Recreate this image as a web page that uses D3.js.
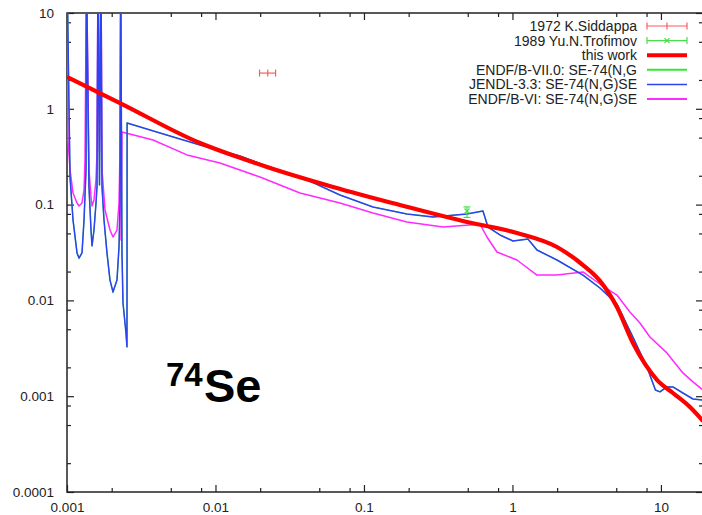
<!DOCTYPE html>
<html>
<head>
<meta charset="utf-8">
<script src="https://cdn.jsdelivr.net/npm/d3@7"></script>
<style>
  body { margin: 0; background: #fff; }
  svg { display: block; }
  text { font-family: "Liberation Sans", Arial, Helvetica, sans-serif; }
</style>
</head>
<body>
<svg id="chart" width="702" height="515"></svg>
<script>
// Se-74 (n,gamma) capture cross section, barn vs. neutron energy, MeV

// axis ticks
const xTickValues = [0.001, 0.01, 0.1, 1, 10];
const xTickLabels = ["0.001", "0.01", "0.1", "1", "10"];
const yTickValues = [0.0001, 0.001, 0.01, 0.1, 1, 10];
const yTickLabels = ["0.0001", "0.001", "0.01", "0.1", "1", "10"];
const minorMultipliers = [2, 5, 8];

const xDomain = [0.001, 19.2];
const yDomain = [0.0001, 10];

// experimental data: [energy, xs, energyLow, energyHigh]
const siddappa1972 = [[0.0225, 2.36, 0.0198, 0.0254]];
// [energy, xs, xsLow, xsHigh]
const trofimov1989 = [[0.494, 0.0857, 0.0735, 0.0946]];

// evaluated / calculated curves: [energy, xs]
const thisWork = [
  [0.001, 2.15], [0.002275, 1.149], [0.007865, 0.44], [0.01462, 0.308],
  [0.02223, 0.247], [0.06184, 0.153], [0.1748, 0.0991], [0.494, 0.0658],
  [1.072, 0.0506], [1.994, 0.0361], [2.984, 0.0234], [3.883, 0.0160],
  [5.053, 0.00853], [6.478, 0.00359], [7.805, 0.00217], [9.40, 0.00148],
  [12.04, 0.00108], [15.68, 0.000771], [19.2, 0.000551]
];

const jendl33 = [
  [0.001, 30], [0.001048, 0.194], [0.001098, 0.069], [0.001168, 0.0313],
  [0.001205, 0.0277], [0.001262, 0.0313], [0.001302, 0.069], [0.001343, 0.230],
  [0.001353, 30], [0.001406, 0.153], [0.001451, 0.0543], [0.001474, 0.037],
  [0.00152, 0.0543], [0.001568, 0.104], [0.001592, 0.153], [0.001617, 30],
  [0.001655, 0.16], [0.001694, 30], [0.001721, 0.153], [0.001775, 0.069],
  [0.001859, 0.0313], [0.001948, 0.0163], [0.002041, 0.01225], [0.002171, 0.0163],
  [0.00224, 0.0361], [0.002275, 0.104], [0.0023, 30], [0.002346, 0.0313],
  [0.002383, 0.0094], [0.002496, 0.00457], [0.002535, 0.00326], [0.00254, 0.711],
  [0.004229, 0.559], [0.007865, 0.419], [0.01462, 0.3216], [0.02223, 0.2529],
  [0.02439, 0.241], [0.04132, 0.181], [0.06893, 0.126], [0.115, 0.0944],
  [0.1948, 0.0798], [0.2914, 0.0743], [0.494, 0.0798], [0.6329, 0.0857],
  [0.684, 0.0583], [0.8238, 0.0482], [1.008, 0.0417], [1.272, 0.0437],
  [1.462, 0.0336], [1.994, 0.0264], [2.984, 0.0184], [3.883, 0.01347],
  [5.053, 0.00917], [6.478, 0.00415], [8.05, 0.00202], [9.18, 0.00116],
  [9.85, 0.00111], [10.97, 0.00125], [12.04, 0.00125], [14.06, 0.00108],
  [16.43, 0.000935], [19.2, 0.000912]
];

// ENDF/B-VII.0 follows JENDL-3.3 for this reaction
const endfb7 = jendl33.map(d => [d[0], d[1]]);

const endfb6 = [
  [0.001, 30], [0.0010156, 0.472], [0.001048, 0.230], [0.001098, 0.132],
  [0.001168, 0.104], [0.001205, 0.0967], [0.001262, 0.104], [0.001302, 0.142],
  [0.001322, 0.292], [0.001353, 30], [0.001406, 0.230], [0.001451, 0.120],
  [0.001474, 0.0967], [0.00152, 0.1117], [0.001568, 0.181], [0.001592, 0.346],
  [0.001617, 30], [0.001655, 0.36], [0.001694, 30], [0.001721, 0.230],
  [0.001803, 0.0879], [0.001948, 0.0543], [0.002041, 0.0459], [0.002171, 0.0543],
  [0.00224, 0.104], [0.002275, 0.346], [0.0023, 30], [0.002311, 0.0427],
  [0.002346, 0.573], [0.003795, 0.472], [0.00643, 0.330], [0.01072, 0.272],
  [0.01994, 0.194], [0.03707, 0.132], [0.06893, 0.104], [0.115, 0.0817],
  [0.1948, 0.0658], [0.3404, 0.0583], [0.604, 0.0625], [0.6735, 0.0459],
  [0.7864, 0.0320], [1.072, 0.0264], [1.462, 0.0184], [1.994, 0.0184],
  [2.984, 0.0198], [3.883, 0.01483], [5.053, 0.01138], [6.18, 0.00757],
  [7.22, 0.00581], [8.43, 0.00415], [10.97, 0.00283], [14.06, 0.00175],
  [16.43, 0.00141], [19.2, 0.00116]
];

const legendLabels = [
  "1972 K.Siddappa",
  "1989 Yu.N.Trofimov",
  "this work",
  "ENDF/B-VII.0: SE-74(N,G",
  "JENDL-3.3: SE-74(N,G)SE",
  "ENDF/B-VI: SE-74(N,G)SE"
];

const colors = {
  siddappa: "#ff5a5a",
  trofimov: "#4ddc4d",
  thisWork: "#ff0000",
  endfb7: "#33e833",
  jendl: "#2b43f0",
  endfb6: "#ff2aff"
};

// ---- layout ----
const plot = { left: 67, right: 703, top: 13, bottom: 492 };
const svg = d3.select("#chart");

const x = d3.scaleLog().domain(xDomain).range([plot.left, plot.right]);
const y = d3.scaleLog().domain(yDomain).range([plot.bottom, plot.top]);

function minorValues(domain) {
  const out = [];
  for (let e = Math.floor(Math.log10(domain[0])); e <= Math.ceil(Math.log10(domain[1])); e++) {
    minorMultipliers.forEach(m => {
      const v = m * Math.pow(10, e);
      if (v > domain[0] && v < domain[1]) out.push(v);
    });
  }
  return out;
}

svg.append("defs").append("clipPath").attr("id", "plotClip")
  .append("rect")
  .attr("x", plot.left).attr("y", plot.top)
  .attr("width", plot.right - plot.left).attr("height", plot.bottom - plot.top);

// ---- axes (ticks point into the frame, gnuplot style) ----
const majorLen = 7, minorLen = 4;
const axisColor = "#222";

function styleAxis(g) {
  g.select(".domain").remove();
  g.selectAll(".tick line").attr("stroke", axisColor).attr("stroke-width", 1.2);
  g.selectAll(".tick text").attr("fill", "#222").style("font-size", "13.5px");
}

// bottom
svg.append("g").attr("transform", `translate(0,${plot.bottom})`)
  .call(d3.axisBottom(x).tickValues(xTickValues)
    .tickFormat((d, i) => xTickLabels[i]).tickSize(-majorLen).tickPadding(10))
  .call(styleAxis);
svg.append("g").attr("transform", `translate(0,${plot.bottom})`)
  .call(d3.axisBottom(x).tickValues(minorValues(xDomain)).tickFormat("").tickSize(-minorLen))
  .call(styleAxis);
// top
svg.append("g").attr("transform", `translate(0,${plot.top})`)
  .call(d3.axisTop(x).tickValues(xTickValues).tickFormat("").tickSize(-majorLen))
  .call(styleAxis);
svg.append("g").attr("transform", `translate(0,${plot.top})`)
  .call(d3.axisTop(x).tickValues(minorValues(xDomain)).tickFormat("").tickSize(-minorLen))
  .call(styleAxis);
// left
svg.append("g").attr("transform", `translate(${plot.left},0)`)
  .call(d3.axisLeft(y).tickValues(yTickValues)
    .tickFormat((d, i) => yTickLabels[i]).tickSize(-majorLen).tickPadding(13))
  .call(styleAxis);
svg.append("g").attr("transform", `translate(${plot.left},0)`)
  .call(d3.axisLeft(y).tickValues(minorValues(yDomain)).tickFormat("").tickSize(-minorLen))
  .call(styleAxis);
// right
svg.append("g").attr("transform", `translate(${plot.right},0)`)
  .call(d3.axisRight(y).tickValues(yTickValues).tickFormat("").tickSize(-majorLen))
  .call(styleAxis);
svg.append("g").attr("transform", `translate(${plot.right},0)`)
  .call(d3.axisRight(y).tickValues(minorValues(yDomain)).tickFormat("").tickSize(-minorLen))
  .call(styleAxis);

// frame
svg.append("rect")
  .attr("x", plot.left).attr("y", plot.top)
  .attr("width", plot.right - plot.left).attr("height", plot.bottom - plot.top)
  .attr("fill", "none").attr("stroke", axisColor).attr("stroke-width", 1.5);

// ---- curves ----
const line = d3.line().x(d => x(d[0])).y(d => y(d[1]));
const smooth = d3.line().x(d => x(d[0])).y(d => y(d[1])).curve(d3.curveMonotoneX);
const curves = svg.append("g").attr("clip-path", "url(#plotClip)");

curves.append("path").datum(endfb7).attr("d", line)
  .attr("fill", "none").attr("stroke", colors.endfb7).attr("stroke-width", 1.2);
curves.append("path").datum(endfb6).attr("d", line)
  .attr("fill", "none").attr("stroke", colors.endfb6).attr("stroke-width", 1.5)
  .attr("stroke-linejoin", "round");
curves.append("path").datum(jendl33).attr("d", line)
  .attr("fill", "none").attr("stroke", colors.jendl).attr("stroke-width", 1.5)
  .attr("stroke-linejoin", "round");
curves.append("path").datum(thisWork).attr("d", smooth)
  .attr("fill", "none").attr("stroke", colors.thisWork).attr("stroke-width", 4.2)
  .attr("stroke-linejoin", "round");

// ---- experimental points ----
const cap = 3.5;
const pts = svg.append("g");
siddappa1972.forEach(d => {
  const cx = x(d[0]), cy = y(d[1]);
  const g = pts.append("g").attr("stroke", colors.siddappa).attr("stroke-width", 1.2);
  g.append("line").attr("x1", x(d[2])).attr("x2", x(d[3])).attr("y1", cy).attr("y2", cy);
  g.append("line").attr("x1", x(d[2])).attr("x2", x(d[2])).attr("y1", cy - cap).attr("y2", cy + cap);
  g.append("line").attr("x1", x(d[3])).attr("x2", x(d[3])).attr("y1", cy - cap).attr("y2", cy + cap);
  g.append("line").attr("x1", cx).attr("x2", cx).attr("y1", cy - cap).attr("y2", cy + cap);
});
trofimov1989.forEach(d => {
  const cx = x(d[0]), cy = y(d[1]);
  const g = pts.append("g").attr("stroke", colors.trofimov).attr("stroke-width", 1.2);
  g.append("line").attr("x1", cx).attr("x2", cx).attr("y1", y(d[2])).attr("y2", y(d[3]));
  g.append("line").attr("x1", cx - cap).attr("x2", cx + cap).attr("y1", y(d[2])).attr("y2", y(d[2]));
  g.append("line").attr("x1", cx - cap).attr("x2", cx + cap).attr("y1", y(d[3])).attr("y2", y(d[3]));
  g.append("line").attr("x1", cx - 2.5).attr("x2", cx + 2.5).attr("y1", cy - 2.5).attr("y2", cy + 2.5);
  g.append("line").attr("x1", cx - 2.5).attr("x2", cx + 2.5).attr("y1", cy + 2.5).attr("y2", cy - 2.5);
});

// ---- legend ----
const legend = svg.append("g");
const lgTextX = 637, lgX1 = 647, lgX2 = 687, lgY0 = 26, lgDy = 14.6;
legendLabels.forEach((label, i) => {
  const ly = lgY0 + i * lgDy;
  legend.append("text").attr("x", lgTextX).attr("y", ly).attr("dy", "0.35em")
    .attr("text-anchor", "end").attr("fill", "#222").style("font-size", "14px").text(label);
});
function legendBar(i, color, markX) {
  const ly = lgY0 + i * lgDy;
  const g = legend.append("g").attr("stroke", color).attr("stroke-width", 1.2);
  g.append("line").attr("x1", lgX1).attr("x2", lgX2).attr("y1", ly).attr("y2", ly);
  [lgX1, lgX2].forEach(px => g.append("line").attr("x1", px).attr("x2", px).attr("y1", ly - cap).attr("y2", ly + cap));
  const mx = (lgX1 + lgX2) / 2;
  if (markX) {
    g.append("line").attr("x1", mx - 2.5).attr("x2", mx + 2.5).attr("y1", ly - 2.5).attr("y2", ly + 2.5);
    g.append("line").attr("x1", mx - 2.5).attr("x2", mx + 2.5).attr("y1", ly + 2.5).attr("y2", ly - 2.5);
  } else {
    g.append("line").attr("x1", mx).attr("x2", mx).attr("y1", ly - cap).attr("y2", ly + cap);
  }
}
legendBar(0, colors.siddappa, false);
legendBar(1, colors.trofimov, true);
[[2, colors.thisWork, 4], [3, colors.endfb7, 2], [4, colors.jendl, 1.5], [5, colors.endfb6, 2]]
  .forEach(([i, c, w]) => {
    const ly = lgY0 + i * lgDy;
    legend.append("line").attr("x1", lgX1).attr("x2", lgX2).attr("y1", ly).attr("y2", ly)
      .attr("stroke", c).attr("stroke-width", w);
  });

// ---- isotope label ----
const iso = svg.append("g").attr("fill", "#000").style("font-weight", "bold");
iso.append("text").attr("x", 166).attr("y", 386).style("font-size", "33px").text("74");
iso.append("text").attr("x", 204).attr("y", 402).style("font-size", "47px").text("Se");
</script>
</body>
</html>
